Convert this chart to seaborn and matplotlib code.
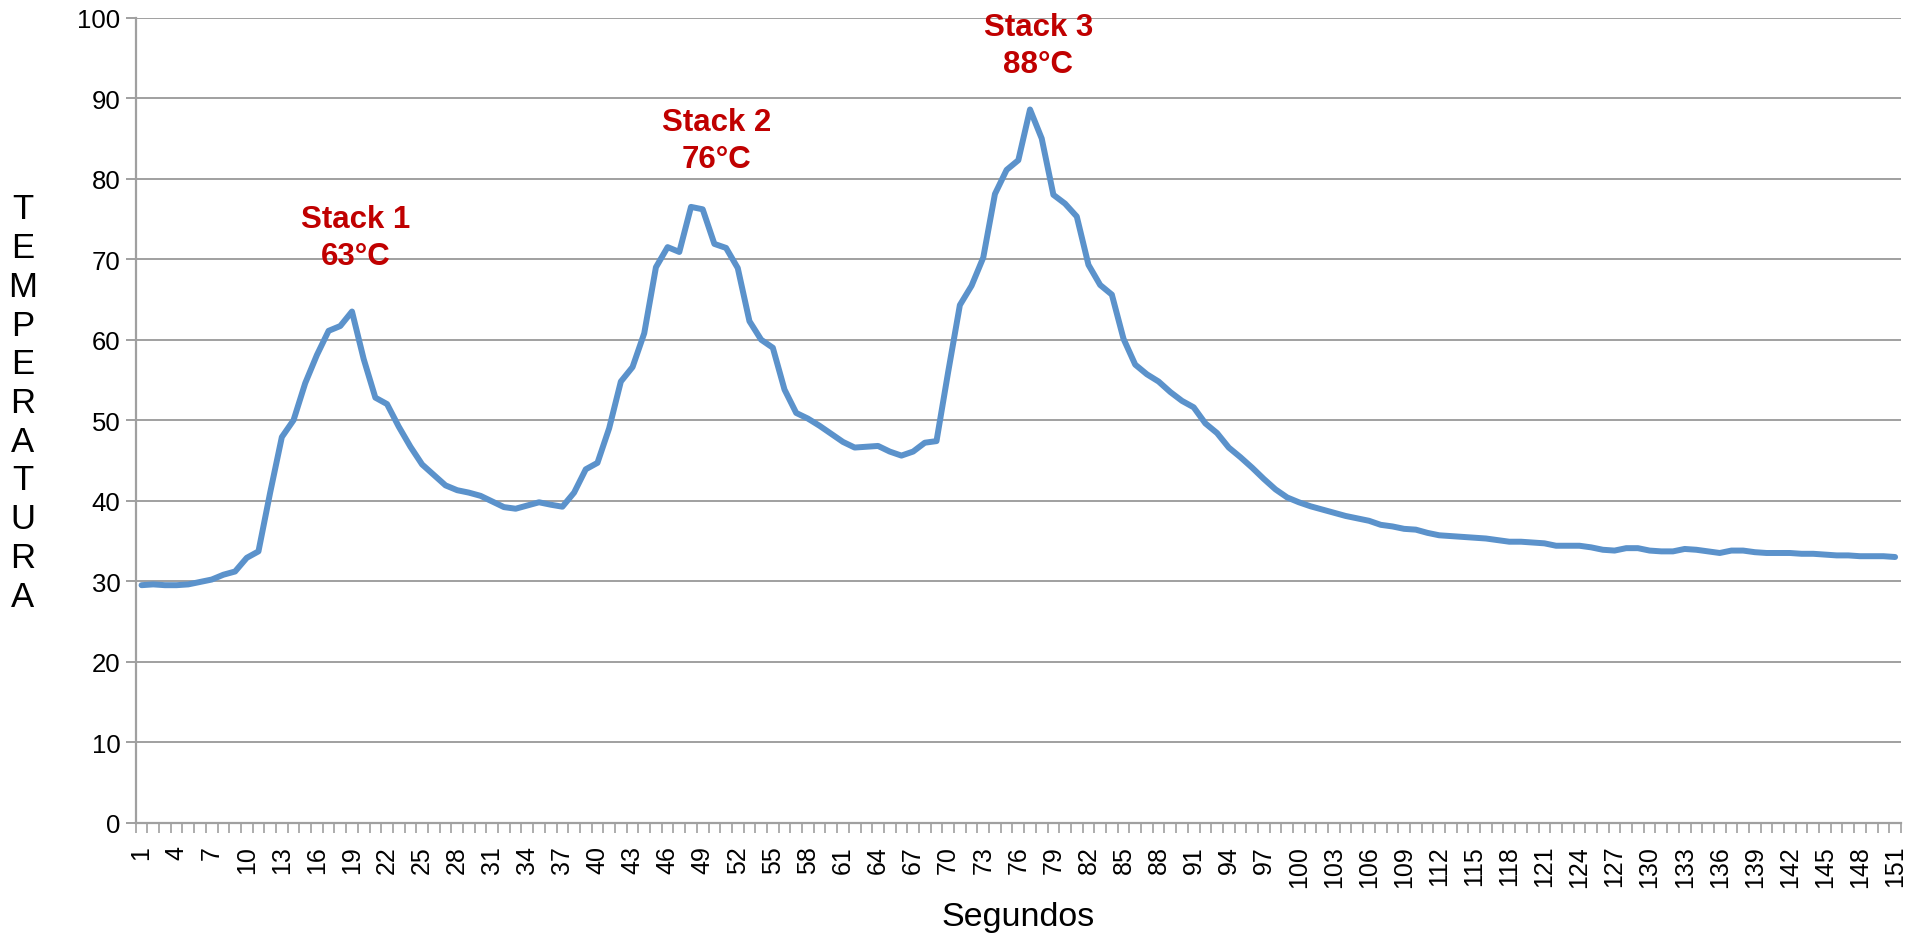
import numpy as np
import pandas as pd
import matplotlib
matplotlib.use("Agg")
import matplotlib.pyplot as plt
import seaborn as sns

# --------------------
# Data
# --------------------
segundos = list(range(1, 152))
temperatura = [
    29.5, 29.6, 29.5, 29.5, 29.6, 29.9, 30.2, 30.8, 31.2, 32.9,
    33.7, 41.0, 47.9, 50.0, 54.6, 58.1, 61.1, 61.7, 63.5, 57.6,
    52.8, 52.0, 49.2, 46.7, 44.5, 43.2, 41.9, 41.3, 41.0, 40.6,
    39.9, 39.2, 39.0, 39.4, 39.8, 39.5, 39.25, 41.0, 43.9, 44.7,
    49.0, 54.8, 56.6, 60.8, 69.0, 71.5, 70.9, 76.5, 76.2, 71.9,
    71.4, 68.9, 62.3, 60.0, 59.0, 53.8, 50.9, 50.2, 49.3, 48.3,
    47.3, 46.6, 46.7, 46.8, 46.1, 45.6, 46.1, 47.2, 47.4, 56.0,
    64.3, 66.7, 70.2, 78.1, 81.1, 82.3, 88.6, 85.0, 78.0, 76.9,
    75.3, 69.3, 66.8, 65.6, 60.1, 56.9, 55.7, 54.8, 53.5, 52.4,
    51.6, 49.6, 48.4, 46.6, 45.4, 44.1, 42.7, 41.4, 40.4, 39.8,
    39.3, 38.9, 38.5, 38.1, 37.8, 37.5, 37.0, 36.8, 36.5, 36.4,
    36.0, 35.7, 35.6, 35.5, 35.4, 35.3, 35.1, 34.9, 34.9, 34.8,
    34.7, 34.4, 34.4, 34.4, 34.2, 33.9, 33.8, 34.1, 34.1, 33.8,
    33.7, 33.7, 34.0, 33.9, 33.7, 33.5, 33.8, 33.8, 33.6, 33.5,
    33.5, 33.5, 33.4, 33.4, 33.3, 33.2, 33.2, 33.1, 33.1, 33.1,
    33.0,
]

stack_labels = ["Stack 1\n63°C", "Stack 2\n76°C", "Stack 3\n88°C"]
stack_x = [19.3, 50.2, 77.7]
stack_y = [72.7, 84.7, 96.6]

y_ticks = list(range(0, 101, 10))
x_tick_labels = list(range(1, 152, 3))

LINE_COLOR = "#5B92CB"
GRID_COLOR = "#A0A0A0"
RED = "#C00000"

sns.set_theme(style="white")
plt.rcParams["font.family"] = ["Liberation Sans", "DejaVu Sans"]

df = pd.DataFrame({"Segundos": segundos, "Temperatura": temperatura})

fig, ax = plt.subplots(figsize=(19.25, 9.37), dpi=100)
fig.subplots_adjust(left=0.0705, right=0.9875, top=0.980, bottom=0.121)

sns.lineplot(data=df, x="Segundos", y="Temperatura", ax=ax,
             color=LINE_COLOR, linewidth=4.3, zorder=3)

ax.set_xlim(0.5, 151.5)
ax.set_ylim(0, 100)

# y axis
ax.set_yticks(y_ticks)
ax.yaxis.grid(True, color=GRID_COLOR, linewidth=1.4)
ax.tick_params(axis="y", which="major", left=True, length=7, width=1.4,
               color=GRID_COLOR, labelsize=18.5, labelcolor="black", pad=4)

# x axis: labels every 3rd second, tick marks between every category
ax.set_xticks(x_tick_labels)
ax.set_xticklabels([str(v) for v in x_tick_labels], rotation=90)
ax.set_xticks(np.arange(0.5, 152, 1.0), minor=True)
ax.tick_params(axis="x", which="major", bottom=False, labelsize=18,
               labelcolor="black", pad=10)
ax.tick_params(axis="x", which="minor", bottom=True, length=7, width=1.2,
               color=GRID_COLOR)

for side in ["top", "right"]:
    ax.spines[side].set_visible(False)
for side in ["left", "bottom"]:
    ax.spines[side].set_color(GRID_COLOR)
    ax.spines[side].set_linewidth(1.6)

ax.set_xlabel("Segundos", fontsize=24.5, labelpad=10, color="black")
ax.set_ylabel("\n".join("TEMPERATURA"), fontsize=25, rotation=0,
              linespacing=1.22, va="center", ha="center", color="black")
ax.yaxis.set_label_coords(-0.064, 0.522)

for lbl, xv, yv in zip(stack_labels, stack_x, stack_y):
    ax.text(xv, yv, lbl, color=RED, fontsize=22.5, fontweight="bold",
            ha="center", va="center", linespacing=1.3)

fig.savefig("out.png", dpi=100)
